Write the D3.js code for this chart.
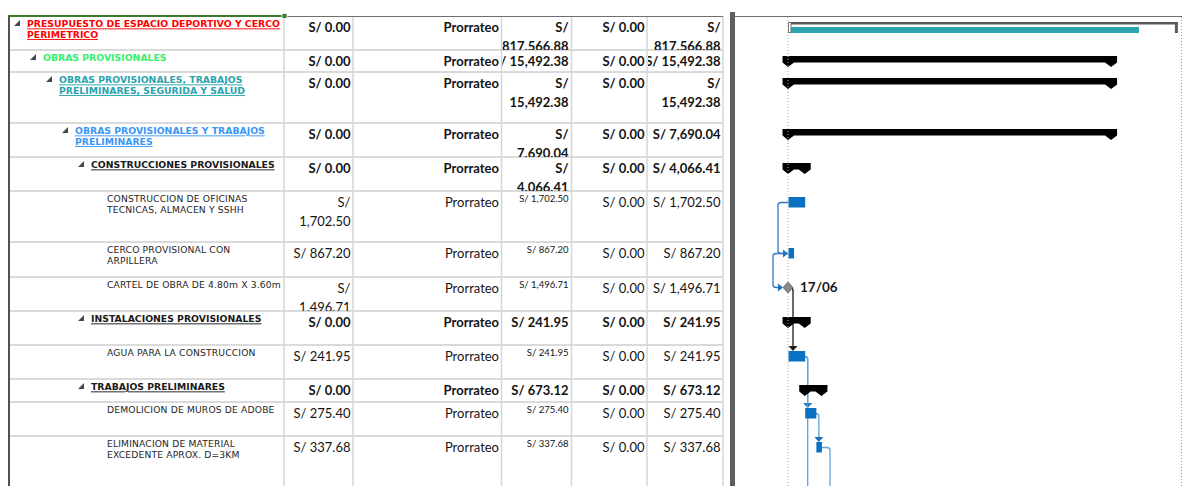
<!DOCTYPE html>
<html>
<head>
<meta charset="utf-8">
<script src="https://cdn.jsdelivr.net/npm/d3@7"></script>
<style>
  html, body { margin: 0; padding: 0; background: #fff; }
  svg { display: block; }
</style>
</head>
<body>
<svg id="chart" width="1182" height="486"></svg>
<script>
// ---- Task sheet data ----
const taskNames = [
  "PRESUPUESTO DE ESPACIO DEPORTIVO Y CERCO\nPERIMETRICO",
  "OBRAS PROVISIONALES",
  "OBRAS PROVISIONALES, TRABAJOS\nPRELIMINARES, SEGURIDA Y SALUD",
  "OBRAS PROVISIONALES Y TRABAJOS\nPRELIMINARES",
  "CONSTRUCCIONES PROVISIONALES",
  "CONSTRUCCION DE OFICINAS\nTECNICAS, ALMACEN Y SSHH",
  "CERCO PROVISIONAL CON\nARPILLERA",
  "CARTEL DE OBRA DE 4.80m X 3.60m",
  "INSTALACIONES PROVISIONALES",
  "AGUA PARA LA CONSTRUCCION",
  "TRABAJOS PRELIMINARES",
  "DEMOLICION DE MUROS DE ADOBE",
  "ELIMINACION DE MATERIAL\nEXCEDENTE APROX. D=3KM"
];
const outlineLevels = [0, 1, 2, 3, 4, 5, 5, 5, 4, 5, 4, 5, 5];
const taskKinds = ["project", "summary", "summary", "summary", "summary",
  "task", "task", "milestone", "summary", "task", "summary", "task", "task"];

const fixedCost = ["S/ 0.00", "S/ 0.00", "S/ 0.00", "S/ 0.00", "S/ 0.00",
  "S/\n1,702.50", "S/ 867.20", "S/\n1.496.71", "S/ 0.00", "S/ 241.95",
  "S/ 0.00", "S/ 275.40", "S/ 337.68"];
const costAccrual = ["Prorrateo", "Prorrateo", "Prorrateo", "Prorrateo", "Prorrateo",
  "Prorrateo", "Prorrateo", "Prorrateo", "Prorrateo", "Prorrateo",
  "Prorrateo", "Prorrateo", "Prorrateo"];
const totalCost = ["S/\n817.566.88", "S/ 15,492.38", "S/\n15,492.38", "S/\n7.690.04",
  "S/\n4.066.41", "S/ 1,702.50", "S/ 867.20", "S/ 1,496.71", "S/ 241.95",
  "S/ 241.95", "S/ 673.12", "S/ 275.40", "S/ 337.68"];
const baselineCost = ["S/ 0.00", "S/ 0.00", "S/ 0.00", "S/ 0.00", "S/ 0.00",
  "S/ 0.00", "S/ 0.00", "S/ 0.00", "S/ 0.00", "S/ 0.00",
  "S/ 0.00", "S/ 0.00", "S/ 0.00"];
const costVariance = ["S/\n817.566.88", "S/ 15,492.38", "S/\n15,492.38", "S/ 7,690.04",
  "S/ 4,066.41", "S/ 1,702.50", "S/ 867.20", "S/ 1,496.71", "S/ 241.95",
  "S/ 241.95", "S/ 673.12", "S/ 275.40", "S/ 337.68"];

// ---- Schedule data ----
const startDates = ["2019-06-17", "2019-06-17", "2019-06-17", "2019-06-17", "2019-06-17",
  "2019-06-17", "2019-06-17", "2019-06-17", "2019-06-17", "2019-06-17",
  "2019-06-20", "2019-06-20", "2019-06-22"];
const finishDates = ["2019-08-26", "2019-08-14", "2019-08-14", "2019-08-14", "2019-06-20",
  "2019-06-20", "2019-06-18", "2019-06-17", "2019-06-20", "2019-06-20",
  "2019-06-23", "2019-06-22", "2019-06-23"];
const projectBaselineFinish = "2019-08-19";
const timelineStart = "2019-06-17";
const timelineEnd = "2019-08-26";

// Dependencies: type, predecessor row, successor row (null = successor further down the list)
const links = [
  { type: "SS", from: 5, to: 6 },
  { type: "SS", from: 6, to: 7 },
  { type: "FS", from: 7, to: 9 },
  { type: "FS", from: 9, to: 11 },
  { type: "FS", from: 11, to: 12 },
  { type: "FS", from: 9, to: null, toStart: "2019-06-20" },
  { type: "FS", from: 12, to: null, toStart: "2019-06-24" }
];

// ---- Layout ----
const W = 1182, H = 486;
const tableTop = 16;
const rowHeights = [34, 22, 51, 34, 34, 51, 35, 34, 34, 34, 23, 34, 51];
const colEdges = [9, 284, 353, 501.5, 571.5, 647, 723];
const ganttLeft = 735;

const rowTops = [];
{ let acc = tableTop; rowHeights.forEach(h => { rowTops.push(acc); acc += h; }); }

const parse = d3.timeParse("%Y-%m-%d");
const dayLabel = d3.timeFormat("%d/%m");
const x = d3.scaleTime()
  .domain([parse(timelineStart), parse(timelineEnd)])
  .range([788, 788 + 70 * 5.57]);

const rows = taskNames.map((name, i) => ({
  i, name, level: outlineLevels[i], kind: taskKinds[i],
  top: rowTops[i], h: rowHeights[i],
  start: parse(startDates[i]), finish: parse(finishDates[i])
}));

const svg = d3.select("#chart");
const defs = svg.append("defs");

const numFont = "Lato, 'Open Sans', sans-serif";
const nameFont = "'DejaVu Sans', Verdana, sans-serif";

// ---- Table grid ----
const grid = svg.append("g");
grid.selectAll("line.h").data(rowTops.slice(1).concat([rowTops[12] + rowHeights[12]]))
  .join("line")
  .attr("x1", 10).attr("x2", 723)
  .attr("y1", d => d).attr("y2", d => d)
  .attr("stroke", "#dadada").attr("stroke-width", 2);
grid.selectAll("line.v").data(colEdges.slice(1)).join("line")
  .attr("x1", d => d).attr("x2", d => d)
  .attr("y1", tableTop).attr("y2", H)
  .attr("stroke", "#d6d6d6").attr("stroke-width", 1.5);

// top borders
grid.append("line").attr("x1", 285).attr("x2", 723).attr("y1", 16.5).attr("y2", 16.5)
  .attr("stroke", "#6f6f6f").attr("stroke-width", 1);
grid.append("line").attr("x1", ganttLeft).attr("x2", W).attr("y1", 16.5).attr("y2", 16.5)
  .attr("stroke", "#6f6f6f").attr("stroke-width", 1);
// left border
grid.append("rect").attr("x", 8).attr("y", 15).attr("width", 2).attr("height", H - 15)
  .attr("fill", "#505050");
// active cell outline on the name column
grid.append("rect").attr("x", 9).attr("y", 15).attr("width", 275).attr("height", 2)
  .attr("fill", "#3e7b2c");
grid.append("rect").attr("x", 282).attr("y", 13.5).attr("width", 5).attr("height", 5)
  .attr("fill", "#3e7b2c").attr("stroke", "#fff").attr("stroke-width", 0.8);

// splitter between sheet and chart
svg.append("rect").attr("x", 730).attr("y", 12).attr("width", 5).attr("height", H - 12)
  .attr("fill", "#5e5e5e");

// ---- Cell clip paths ----
rows.forEach(r => {
  for (let c = 0; c < colEdges.length - 1; c++) {
    defs.append("clipPath").attr("id", `cell-${r.i}-${c}`)
      .append("rect")
      .attr("x", colEdges[c] + 1).attr("y", r.top + 1)
      .attr("width", colEdges[c + 1] - colEdges[c] - 2)
      .attr("height", r.h - 1);
  }
});

// ---- Name column ----
const nameStyles = {
  0: { fill: "#ff0000", bold: true, underline: true },
  1: { fill: "#33f06c", bold: true, underline: false },
  2: { fill: "#2aa3ad", bold: true, underline: true },
  3: { fill: "#3a96f5", bold: true, underline: true },
  4: { fill: "#1a1a1a", bold: true, underline: true },
  5: { fill: "#262626", bold: false, underline: false }
};
const nameX = lvl => 27 + 16 * lvl;

const names = svg.append("g").selectAll("g").data(rows).join("g")
  .attr("clip-path", d => `url(#cell-${d.i}-0)`);

names.filter(d => d.kind !== "task" && d.kind !== "milestone")
  .append("path")
  .attr("d", d => {
    const tx = nameX(d.level), b = d.top + 10;
    return `M${tx - 13},${b} L${tx - 7},${b} L${tx - 7},${b - 6} Z`;
  })
  .attr("fill", "#484848");

names.append("text")
  .attr("font-family", nameFont)
  .attr("font-size", d => nameStyles[d.level].bold ? 9.3 : 9.2)
  .attr("font-weight", d => nameStyles[d.level].bold ? "bold" : "normal")
  .attr("letter-spacing", d => nameStyles[d.level].bold ? 0 : 0.15)
  .attr("fill", d => nameStyles[d.level].fill)
  .attr("text-decoration", d => nameStyles[d.level].underline ? "underline" : null)
  .each(function (d) {
    d3.select(this).selectAll("tspan").data(d.name.split("\n")).join("tspan")
      .attr("x", nameX(d.level))
      .attr("y", (t, k) => d.top + 11.4 + k * 10.7)
      .text(t => t);
  });

// ---- Cost columns ----
const costColumns = [
  { values: fixedCost, col: 1 },
  { values: costAccrual, col: 2 },
  { values: totalCost, col: 3, smallForTasks: true },
  { values: baselineCost, col: 4 },
  { values: costVariance, col: 5 }
];
const isRollup = r => r.kind === "project" || r.kind === "summary";

costColumns.forEach(spec => {
  const g = svg.append("g");
  g.selectAll("text").data(rows).join("text")
    .attr("clip-path", d => `url(#cell-${d.i}-${spec.col})`)
    .attr("font-family", numFont)
    .attr("text-anchor", "end")
    .attr("fill", "#141414")
    .attr("font-weight", d => isRollup(d) ? "bold" : "normal")
    .attr("font-size", d => (spec.smallForTasks && !isRollup(d)) ? 9.5 : 13)
    .each(function (d) {
      const small = spec.smallForTasks && !isRollup(d);
      const rx = colEdges[spec.col + 1] - (spec.col === 3 ? 3 : 2.5);
      d3.select(this).selectAll("tspan").data(spec.values[d.i].split("\n")).join("tspan")
        .attr("x", rx)
        .attr("y", (t, k) => d.top + (small ? 10.6 : 16.2) + k * 18.3)
        .text(t => t);
    });
});

// ---- Gantt chart ----
const gantt = svg.append("g");
const barTop = r => r.top + 6;
const barMid = r => r.top + 11.5;

// timeline boundaries
const dotted = (xx) => gantt.append("line")
  .attr("x1", xx).attr("x2", xx).attr("y1", 17).attr("y2", H)
  .attr("stroke", "#9c9c9c").attr("stroke-width", 1).attr("stroke-dasharray", "1,2");
dotted(Math.round(x.range()[1]) + 3.5);

// dependency lines
const linkG = gantt.append("g").attr("fill", "none");
const r0 = 3;
links.forEach(l => {
  const s = rows[l.from];
  const t = l.to == null ? null : rows[l.to];
  const sy = s.kind === "milestone" ? s.top + 10.5 : barMid(s);
  const col = s.kind === "milestone" ? "#1c1c1c" : (l.type === "SS" ? "#2f78c0" : "#62a2dc");
  const head = s.kind === "milestone" ? "#1c1c1c" : "#1f6fbf";
  if (l.type === "SS") {
    const sx = x(s.start);
    const tLeft = t.kind === "milestone" ? x(t.start) - 5 : x(t.start);
    const ty = t.kind === "milestone" ? t.top + 10.5 : barMid(t);
    const ox = Math.min(sx, tLeft) - 10;
    linkG.append("path")
      .attr("d", `M${sx},${sy} H${ox + r0} Q${ox},${sy} ${ox},${sy + r0} V${ty - r0} Q${ox},${ty} ${ox + r0},${ty} H${tLeft - 5}`)
      .attr("stroke", col).attr("stroke-width", 1.3);
    linkG.append("path")
      .attr("d", `M${tLeft - 5},${ty - 4} L${tLeft},${ty} L${tLeft - 5},${ty + 4} Z`)
      .attr("fill", head);
  } else {
    const sx = s.kind === "milestone" ? x(s.start) + 2 : x(s.finish);
    const tStart = t ? t.start : parse(l.toStart);
    const vx = Math.max(sx, x(tStart)) + 3;
    const endY = t ? barTop(t) - 5 : H + 2;
    linkG.append("path")
      .attr("d", `M${sx},${sy} H${vx - r0} Q${vx},${sy} ${vx},${sy + r0} V${endY}`)
      .attr("stroke", col).attr("stroke-width", 1.3);
    if (t) {
      linkG.append("path")
        .attr("d", `M${vx - 4.5},${endY} L${vx + 4.5},${endY} L${vx},${endY + 5} Z`)
        .attr("fill", head);
    }
  }
});

// project summary bracket and bar
rows.filter(r => r.kind === "project").forEach(r => {
  const x0 = x(r.start), x1 = x(r.finish), y = r.top + 6;
  gantt.append("rect").attr("x", x0).attr("y", y).attr("width", x1 - x0).attr("height", 2.5)
    .attr("fill", "#5c5c5c");
  gantt.append("rect").attr("x", x1 - 3).attr("y", y).attr("width", 3).attr("height", 11)
    .attr("fill", "#5c5c5c");
  gantt.append("rect").attr("x", x0 + 2).attr("y", y + 5).attr("width", x(parse(projectBaselineFinish)) - x0 - 2)
    .attr("height", 6).attr("fill", "#2aa4ae");
  gantt.append("rect").attr("x", x0 + 0.5).attr("y", y + 0.5).attr("width", 2.5).attr("height", 10)
    .attr("fill", "#fff").attr("stroke", "#707070").attr("stroke-width", 1);
});

// summary bars with end caps
gantt.selectAll("path.summary").data(rows.filter(r => r.kind === "summary")).join("path")
  .attr("class", "summary")
  .attr("d", r => {
    const x0 = x(r.start), x1 = x(r.finish), y = barTop(r);
    return `M${x0 - 5.5},${y} H${x1 + 6} V${y + 6.5} L${x1},${y + 11} L${x1 - 6},${y + 6.5}` +
      ` H${x0 + 6} L${x0},${y + 11} L${x0 - 5.5},${y + 6.5} Z`;
  })
  .attr("fill", "#000");

// task bars
gantt.selectAll("rect.task").data(rows.filter(r => r.kind === "task")).join("rect")
  .attr("class", "task")
  .attr("x", r => x(r.start) + 0.5)
  .attr("y", r => barTop(r))
  .attr("width", r => Math.max(4, x(r.finish) - x(r.start)))
  .attr("height", 10.5)
  .attr("fill", "#0a70c2");

// milestones
const ms = gantt.selectAll("g.ms").data(rows.filter(r => r.kind === "milestone")).join("g")
  .attr("class", "ms");
ms.append("path")
  .attr("d", r => {
    const cx = x(r.start), cy = r.top + 10.5;
    return `M${cx},${cy - 5.5} L${cx + 5},${cy} L${cx},${cy + 5.5} L${cx - 5},${cy} Z`;
  })
  .attr("fill", "#858585").attr("stroke", "#6a6a6a").attr("stroke-width", 0.8);
ms.append("text")
  .attr("x", r => x(r.start) + 12)
  .attr("y", r => r.top + 14.5)
  .attr("font-family", numFont).attr("font-weight", "bold").attr("font-size", 13.5)
  .attr("fill", "#1a1a1a")
  .text(r => dayLabel(r.start));

// project start line drawn over the bars
dotted(x.range()[0]).attr("stroke", "#a8a8a8");
</script>
</body>
</html>
